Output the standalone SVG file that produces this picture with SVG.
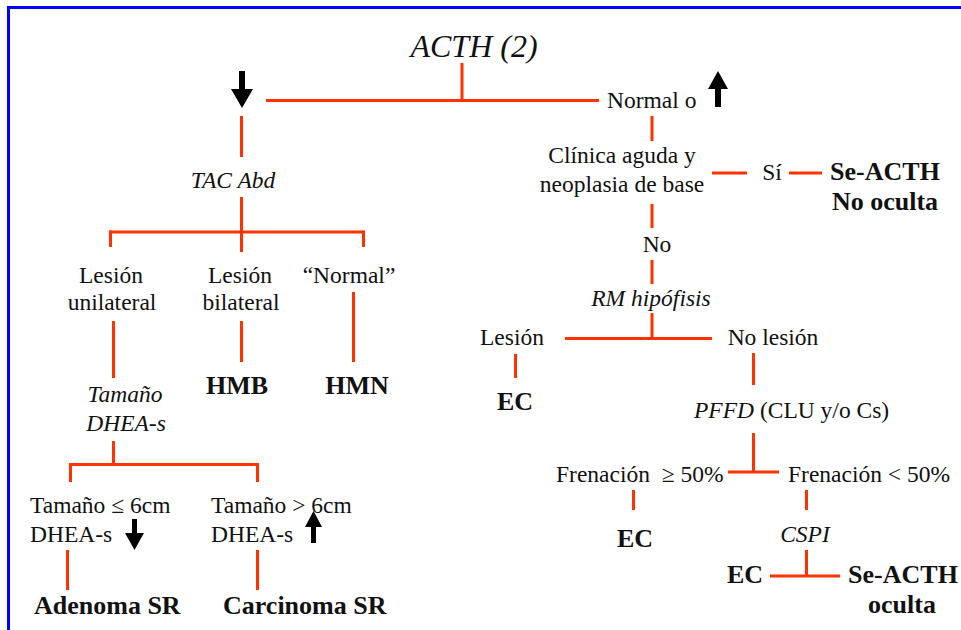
<svg xmlns="http://www.w3.org/2000/svg" width="961" height="630" viewBox="0 0 961 630" font-family="'Liberation Serif', 'DejaVu Serif', serif">
<style>
text{font-family:'Liberation Serif','DejaVu Serif',serif;font-size:23.5px;fill:#111}
.i{font-style:italic}
.b{font-weight:bold;font-size:26px}
.m{text-anchor:middle}
.c line{stroke:#FF3300;stroke-width:3}
.ar{fill:#000}
</style>
<rect x="0" y="0" width="961" height="630" fill="#fff"/>
<rect x="8.5" y="7.5" width="980" height="660" fill="none" stroke="#0000FF" stroke-width="3"/>

<g id="title"><text class="i" x="474" y="57" text-anchor="middle" style="font-size:32px">ACTH (2)</text></g>

<g id="arrows" class="ar">
<path d="M239,71H245V89H253L242,108L231,89H239Z"/>
<path d="M715,107H721V89H728L718,71L708,89H715Z"/>
<path d="M132,519H137V533H144L134.5,550L125,533H132Z"/>
<path d="M311,543H316V527H322L313.5,511L305,527H311Z"/>
</g>

<g class="c" id="connectors">
<line x1="462" y1="63" x2="462" y2="101"/>
<line x1="266" y1="100.5" x2="599" y2="100.5"/>
<line x1="241.5" y1="116" x2="241.5" y2="157"/>
<line x1="241.5" y1="197" x2="241.5" y2="252"/>
<line x1="110" y1="232" x2="364" y2="232"/>
<line x1="110.5" y1="230.5" x2="110.5" y2="247"/>
<line x1="363.5" y1="230.5" x2="363.5" y2="247"/>
<line x1="113.5" y1="321" x2="113.5" y2="378"/>
<line x1="241.5" y1="321" x2="241.5" y2="362"/>
<line x1="353.5" y1="292" x2="353.5" y2="362"/>
<line x1="113.5" y1="441" x2="113.5" y2="465"/>
<line x1="69" y1="464.5" x2="259" y2="464.5"/>
<line x1="70.5" y1="463" x2="70.5" y2="482"/>
<line x1="257.5" y1="463" x2="257.5" y2="482"/>
<line x1="67.5" y1="550" x2="67.5" y2="590"/>
<line x1="257.5" y1="550" x2="257.5" y2="590"/>
<line x1="652" y1="116" x2="652" y2="141"/>
<line x1="712" y1="173" x2="747" y2="173"/>
<line x1="789" y1="173" x2="822" y2="173"/>
<line x1="652" y1="204" x2="652" y2="228"/>
<line x1="652" y1="260" x2="652" y2="284"/>
<line x1="652" y1="313" x2="652" y2="339"/>
<line x1="565" y1="338.5" x2="712" y2="338.5"/>
<line x1="515.5" y1="354" x2="515.5" y2="378"/>
<line x1="753.5" y1="353" x2="753.5" y2="385"/>
<line x1="753.5" y1="433" x2="753.5" y2="473"/>
<line x1="728" y1="472" x2="779" y2="472"/>
<line x1="633.5" y1="490" x2="633.5" y2="510"/>
<line x1="806.5" y1="490" x2="806.5" y2="510"/>
<line x1="806.5" y1="550" x2="806.5" y2="577"/>
<line x1="770" y1="576" x2="840" y2="576"/>
</g>

<g id="n-tac"><text class="i m" x="233" y="188">TAC Abd</text></g>
<g id="n-unilateral"><text class="m" x="111" y="283">Lesión</text><text class="m" x="112" y="310">unilateral</text></g>
<g id="n-bilateral"><text class="m" x="240" y="283">Lesión</text><text class="m" x="241" y="310">bilateral</text></g>
<g id="n-normal"><text class="m" x="349" y="283">“Normal”</text></g>
<g id="n-hmb"><text class="b m" x="237" y="394">HMB</text></g>
<g id="n-hmn"><text class="b m" x="357" y="394">HMN</text></g>
<g id="n-tamano"><text class="i m" x="125" y="402">Tamaño</text><text class="i m" x="126" y="431">DHEA-s</text></g>
<g id="n-small"><text x="30" y="513">Tamaño ≤ 6cm</text><text x="30" y="542">DHEA-s</text></g>
<g id="n-large"><text x="211" y="513">Tamaño &gt; 6cm</text><text x="211" y="542">DHEA-s</text></g>
<g id="n-adenoma"><text class="b" x="34" y="614">Adenoma SR</text></g>
<g id="n-carcinoma"><text class="b" x="223" y="614">Carcinoma SR</text></g>

<g id="n-normalo"><text x="607" y="108">Normal o</text></g>
<g id="n-clinica"><text class="m" x="622" y="163">Clínica aguda y</text><text class="m" x="622" y="192">neoplasia de base</text></g>
<g id="n-si"><text class="m" x="772" y="180">Sí</text></g>
<g id="n-seacth1"><text class="b m" x="885" y="180">Se-ACTH</text><text class="b m" x="885" y="210">No oculta</text></g>
<g id="n-no"><text class="m" x="657" y="252">No</text></g>
<g id="n-rm"><text class="i m" x="651" y="306">RM hipófisis</text></g>
<g id="n-lesion"><text class="m" x="512" y="345">Lesión</text></g>
<g id="n-nolesion"><text class="m" x="773" y="345">No lesión</text></g>
<g id="n-ec1"><text class="b m" x="515" y="410">EC</text></g>
<g id="n-pffd"><text x="694" y="418"><tspan class="i">PFFD</tspan> (CLU y/o Cs)</text></g>
<g id="n-fren1"><text x="556" y="482">Frenación <tspan dx="6">≥ 50%</tspan></text></g>
<g id="n-fren2"><text x="788" y="482">Frenación &lt; 50%</text></g>
<g id="n-ec2"><text class="b m" x="635" y="547">EC</text></g>
<g id="n-cspi"><text class="i m" x="805" y="542">CSPI</text></g>
<g id="n-ec3"><text class="b m" x="745" y="583">EC</text></g>
<g id="n-seacth2"><text class="b m" x="903" y="583">Se-ACTH</text><text class="b m" x="902" y="613">oculta</text></g>
</svg>
